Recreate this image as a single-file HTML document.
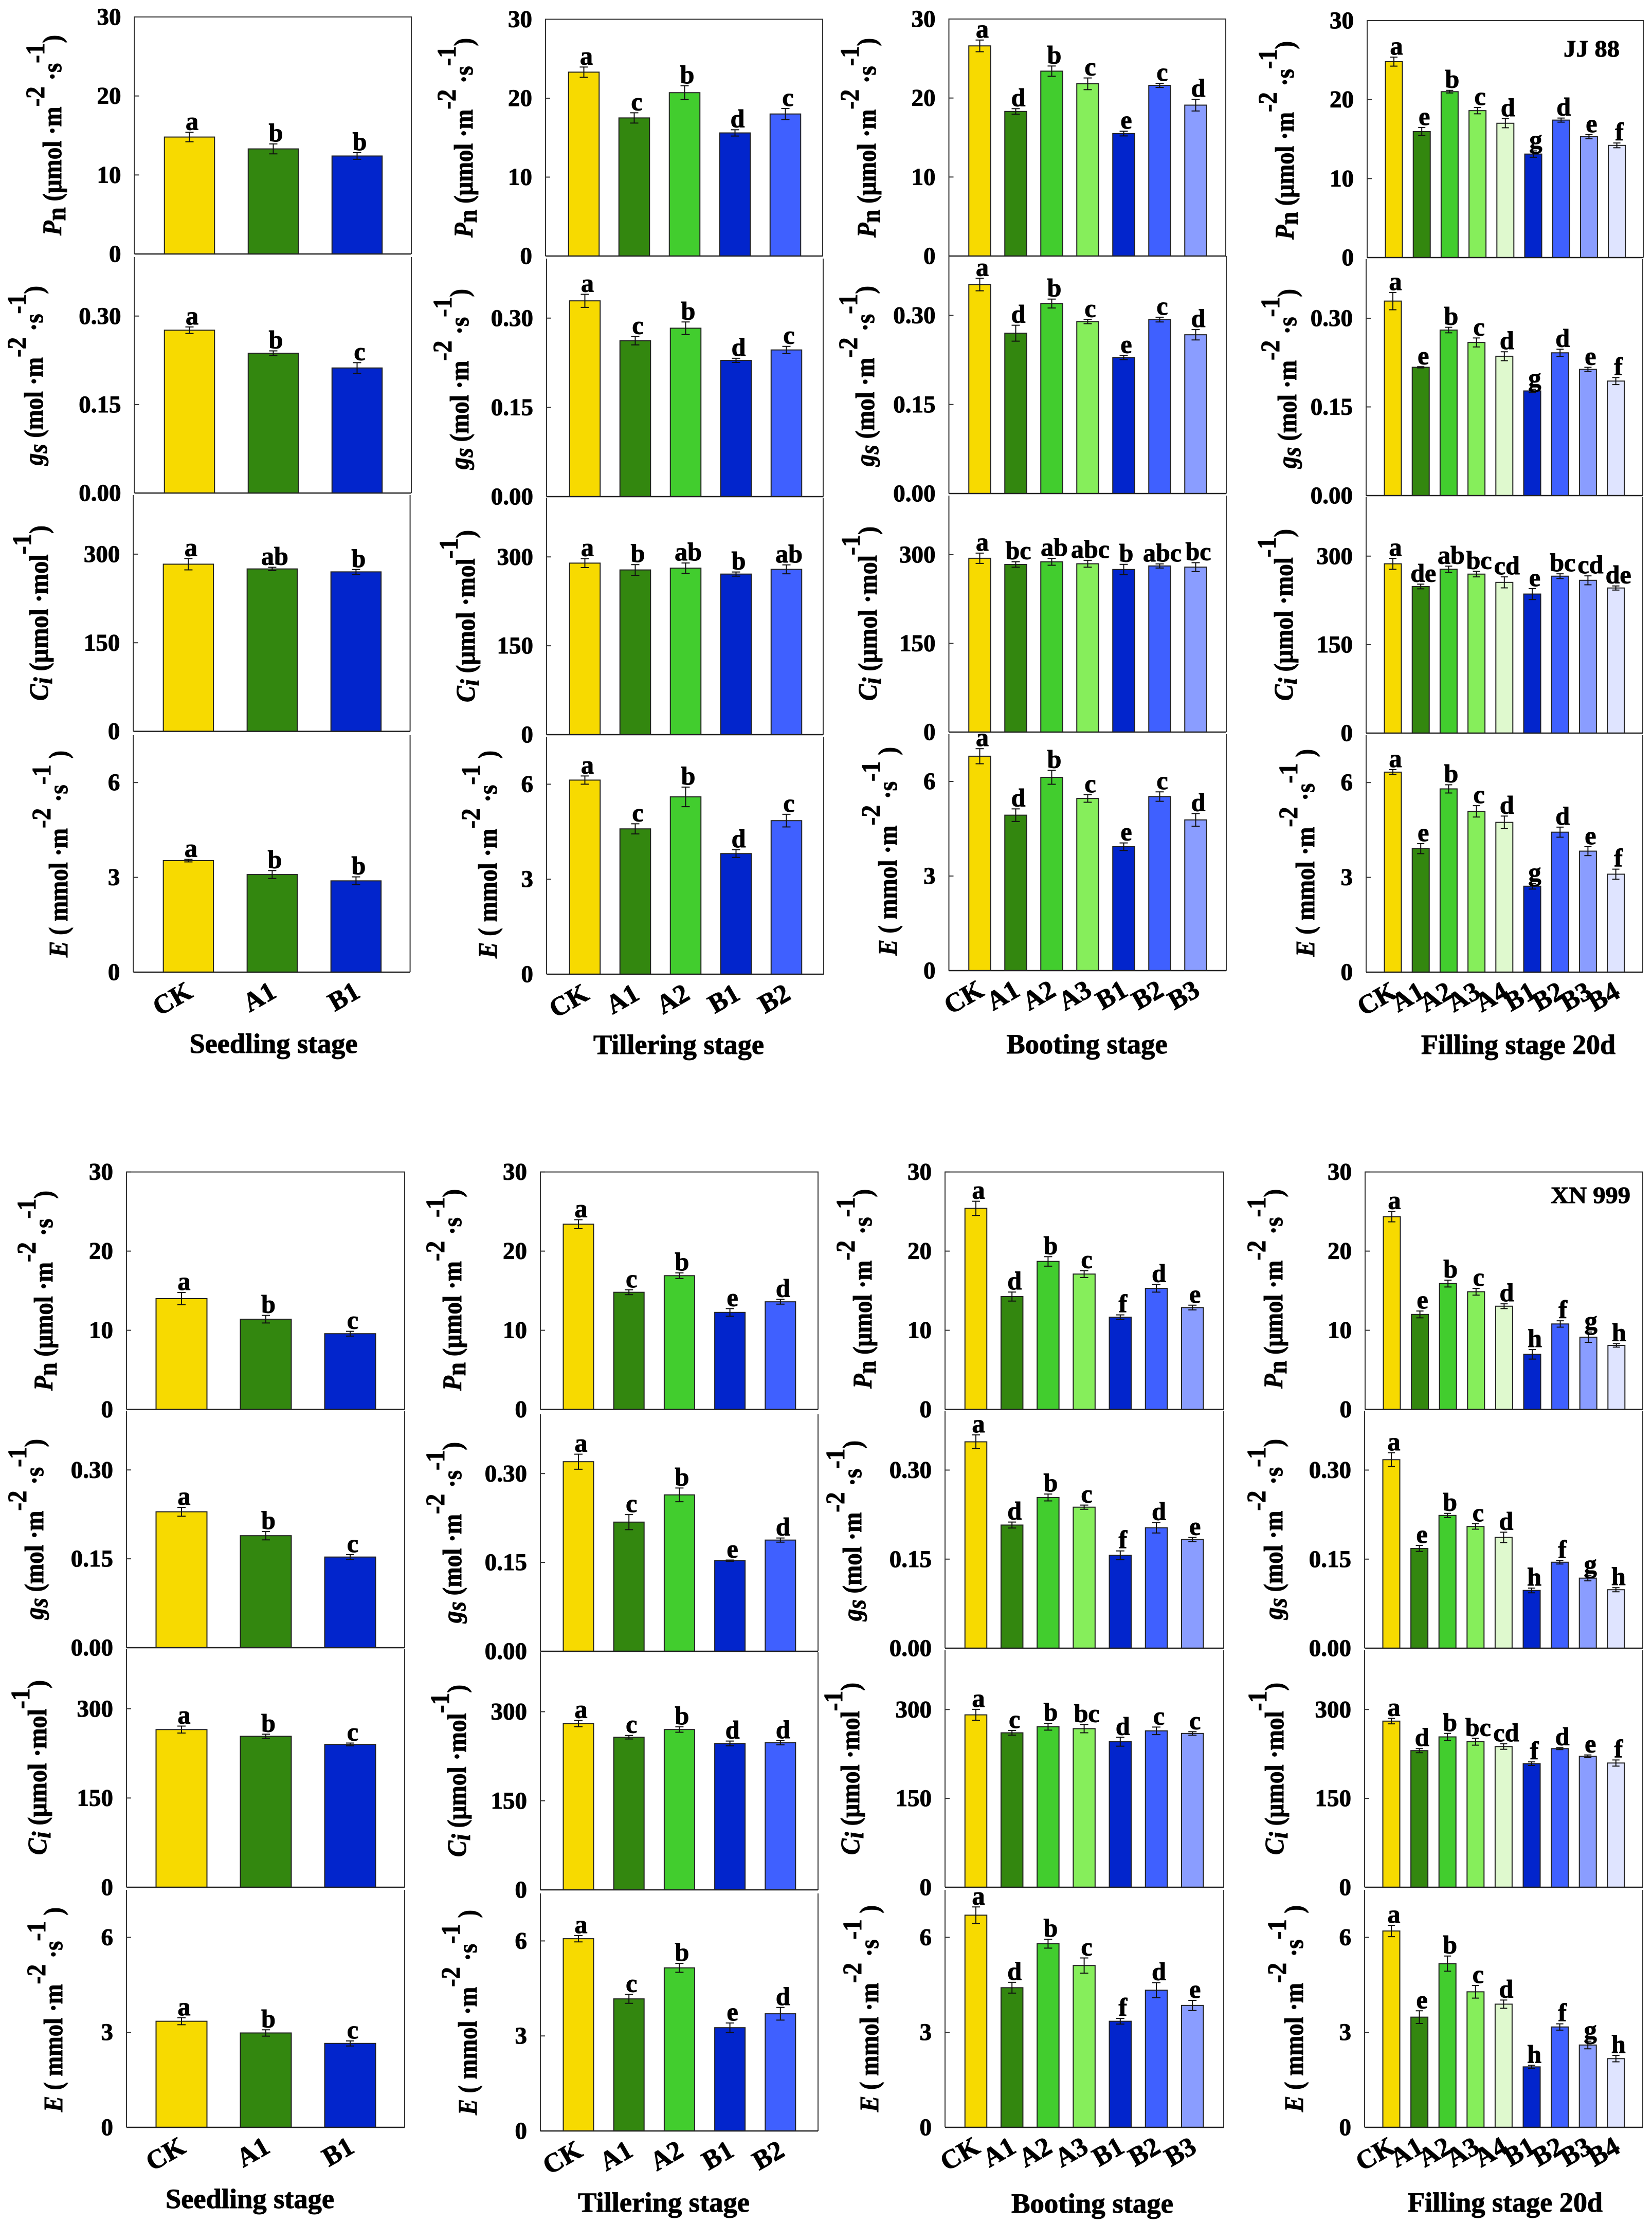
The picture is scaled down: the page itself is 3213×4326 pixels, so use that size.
<!DOCTYPE html>
<html lang="en">
<head>
<meta charset="utf-8">
<title>Gas exchange parameters by growth stage</title>
<style>
html,body{margin:0;padding:0;background:#fff;}
svg{display:block;font-family:"Liberation Serif","Times New Roman",serif;font-weight:bold;}
svg text{stroke:#000;stroke-width:1px;}
</style>
</head>
<body>
<svg id="chart" xmlns="http://www.w3.org/2000/svg" width="3213" height="4326" viewBox="0 0 3213 4326"></svg>
<script>
// Categories
const seedlingCats=['CK','A1','B1'];
const tilleringCats=['CK','A1','A2','B1','B2'];
const bootingCats=['CK','A1','A2','A3','B1','B2','B3'];
const fillingCats=['CK','A1','A2','A3','A4','B1','B2','B3','B4'];

// Tick labels
const pnTicks=['0','10','20','30'];
const gsTicks=['0.00','0.15','0.30'];
const ciTicks=['0','150','300'];
const eTicks=['0','3','6'];

// JJ 88 - Seedling
const jjSeedPn=[14.8,13.3,12.4];const jjSeedPnErr=[.6,.63,.42];const jjSeedPnSig=['a','b','b'];
const jjSeedGs=[.276,.237,.212];const jjSeedGsErr=[.0055,.004,.009];const jjSeedGsSig=['a','b','c'];
const jjSeedCi=[283,275,270];const jjSeedCiErr=[9.6,2.7,4];const jjSeedCiSig=['a','ab','b'];
const jjSeedE=[3.53,3.09,2.89];const jjSeedEErr=[.04,.125,.125];const jjSeedESig=['a','b','b'];
// JJ 88 - Tillering
const jjTillPn=[23.3,17.5,20.7,15.6,18];const jjTillPnErr=[.65,.65,.87,.4,.7];const jjTillPnSig=['a','c','b','d','c'];
const jjTillGs=[.329,.262,.283,.229,.2465];const jjTillGsErr=[.011,.007,.0105,.0035,.006];const jjTillGsSig=['a','c','b','d','c'];
const jjTillCi=[289.5,278,281,271,279];const jjTillCiErr=[7.5,9,8.7,3.5,7.5];const jjTillCiSig=['a','b','ab','b','ab'];
const jjTillE=[6.13,4.59,5.6,3.81,4.85];const jjTillEErr=[.13,.16,.31,.12,.2];const jjTillESig=['a','c','b','d','c'];
// JJ 88 - Booting
const jjBootPn=[26.6,18.3,23.4,21.8,15.5,21.6,19.1];const jjBootPnErr=[.74,.35,.65,.74,.3,.26,.74];const jjBootPnSig=['a','d','b','c','e','c','d'];
const jjBootGs=[.352,.27,.32,.2895,.229,.293,.2674];const jjBootGsErr=[.0105,.0134,.0075,.0035,.0035,.004,.0087];const jjBootGsSig=['a','d','b','c','e','c','d'];
const jjBootCi=[294,283.5,288,284.7,275,281,279];const jjBootCiErr=[8.7,4.7,5.8,5.8,8.7,3.5,7.5];const jjBootCiSig=['a','bc','ab','abc','b','abc','bc'];
const jjBootE=[6.8,4.93,6.13,5.46,3.93,5.52,4.78];const jjBootEErr=[.24,.2,.22,.12,.12,.15,.2];const jjBootESig=['a','d','b','c','e','c','d'];
// JJ 88 - Filling
const jjFillPn=[24.8,15.95,21,18.6,17,13.1,17.4,15.3,14.2];const jjFillPnErr=[.57,.52,.17,.4,.57,.4,.26,.26,.3];const jjFillPnSig=['a','e','b','c','d','g','d','e','f'];
const jjFillGs=[.329,.217,.28,.259,.2357,.177,.2415,.2135,.1937];const jjFillGsErr=[.0146,.001,.0047,.0076,.0076,.003,.006,.0035,.006];const jjFillGsSig=['a','e','b','c','d','g','d','e','f'];
const jjFillCi=[287,248.5,277.7,269.5,255.5,235.7,266,259,246];const jjFillCiErr=[9.3,4,5.3,4.7,9.3,9.3,4,7.6,3.5];const jjFillCiSig=['a','de','ab','bc','cd','e','bc','cd','de'];
const jjFillE=[6.33,3.91,5.8,5.09,4.74,2.72,4.43,3.83,3.1];const jjFillEErr=[.08,.16,.13,.18,.2,.09,.16,.14,.16];const jjFillESig=['a','e','b','c','d','g','d','e','f'];
// XN 999 - Seedling
const xnSeedPn=[14,11.4,9.57];const xnSeedPnErr=[.78,.48,.3];const xnSeedPnSig=['a','b','c'];
const xnSeedGs=[.2294,.189,.153];const xnSeedGsErr=[.0075,.007,.004];const xnSeedGsSig=['a','b','c'];
const xnSeedCi=[265,253.7,240];const xnSeedCiErr=[5.8,3.5,2.3];const xnSeedCiSig=['a','b','c'];
const xnSeedE=[3.35,2.98,2.65];const xnSeedEErr=[.11,.1,.08];const xnSeedESig=['a','b','c'];
// XN 999 - Tillering
const xnTillPn=[23.4,14.8,16.9,12.26,13.6];const xnTillPnErr=[.57,.3,.35,.48,.3];const xnTillPnSig=['a','c','b','e','d'];
const xnTillGs=[.32,.218,.264,.153,.1877];const xnTillGsErr=[.0127,.0127,.0116,.001,.0035];const xnTillGsSig=['a','c','b','e','d'];
const xnTillCi=[280,257,270,246.5,247.7];const xnTillCiErr=[5.2,3,4.6,4,3.5];const xnTillCiSig=['a','c','b','d','d'];
const xnTillE=[6.07,4.17,5.15,3.26,3.7];const xnTillEErr=[.1,.14,.14,.15,.2];const xnTillESig=['a','c','b','e','d'];
// XN 999 - Booting
const xnBootPn=[25.4,14.26,18.7,17.1,11.65,15.3,12.87];const xnBootPnErr=[.9,.57,.6,.43,.3,.48,.3];const xnBootPnSig=['a','d','b','c','f','d','e'];
const xnBootGs=[.3476,.2074,.2538,.2375,.1564,.2028,.183];const xnBootGsErr=[.0116,.005,.0058,.0035,.0075,.0087,.0035];const xnBootGsSig=['a','d','b','c','f','d','e'];
const xnBootCi=[291,260.7,271,267.7,245.6,264,259.6];const xnBootCiErr=[9.3,4,5.8,7,7.5,6.4,3];const xnBootCiSig=['a','c','b','bc','d','c','c'];
const xnBootE=[6.7,4.41,5.8,5.11,3.35,4.33,3.85];const xnBootEErr=[.26,.17,.14,.24,.09,.24,.16];const xnBootESig=['a','d','b','c','f','d','e'];
// XN 999 - Filling
const xnFillPn=[24.35,12,15.9,14.87,13.04,6.96,10.8,9.13,8.09];const xnFillPnErr=[.65,.43,.43,.43,.3,.6,.4,.65,.22];const xnFillPnSig=['a','e','b','c','d','h','f','g','h'];
const xnFillGs=[.3175,.168,.2236,.205,.1866,.0973,.1448,.118,.0985];const xnFillGsErr=[.0116,.005,.0035,.0046,.0087,.004,.003,.0046,.0035];const xnFillGsSig=['a','e','b','c','d','h','f','g','h'];
const xnFillCi=[280.4,230.6,253.8,245.6,237.5,208.6,234,221,209.7];const xnFillCiErr=[4.6,3.5,5.8,5.8,4.6,3,1.7,2.3,5.2];const xnFillCiSig=['a','d','b','bc','cd','f','d','e','f'];
const xnFillE=[6.2,3.48,5.17,4.28,3.89,1.91,3.17,2.6,2.17];const xnFillEErr=[.18,.2,.24,.2,.13,.05,.1,.12,.1];const xnFillESig=['a','e','b','c','d','h','f','g','h'];

// Presentation
const catColors={CK:'#F7DA00',A1:'#33870F',A2:'#42CD2E',A3:'#86EE5B',A4:'#DFF9CE',B1:'#0225CC',B2:'#3F60FF',B3:'#8A9DFF',B4:'#DFE4FF'};
const metrics={
  pn:{max:30,ticks:pnTicks,parts:[['P','i'],['n','sub'],[' (\u03BCmol \u00B7m',''],['-2','sup'],[' \u00B7s',''],['-1','sup'],[')','']]},
  gs:{max:0.4,ticks:gsTicks,parts:[['g','i'],['s','isub'],[' (mol \u00B7m',''],['-2','sup'],[' \u00B7s',''],['-1','sup'],[')','']]},
  ci:{max:400,ticks:ciTicks,parts:[['C','i'],['i','isub'],[' (\u03BCmol \u00B7mol',''],['-1','sup'],[')','']]},
  e:{max:7.5,ticks:eTicks,parts:[['E','i'],[' ( mmol \u00B7m',''],['-2','sup'],[' \u00B7s',''],['-1','sup'],[' )','']]}
};

const layout=[
 {id:'jj-seedling',cats:seedlingCats,off:107,step:163,w:97.5,cap:16,title:'Seedling stage',tc:532,tb:2048,tw:327,rows:[
  {m:'pn',box:[261.5,800,33,494],yt:[119,458,68],v:jjSeedPn,e:jjSeedPnErr,s:jjSeedPnSig},
  {m:'gs',box:[261.5,800,500,959],yt:[83,905,556],v:jjSeedGs,e:jjSeedGsErr,s:jjSeedGsSig},
  {m:'ci',box:[259.4,797.6,963,1422.6],yt:[93,1363,1022],v:jjSeedCi,e:jjSeedCiErr,s:jjSeedCiSig},
  {m:'e',box:[259.4,797.6,1430,1891],yt:[131,1862,1460],v:jjSeedE,e:jjSeedEErr,s:jjSeedESig}]},
 {id:'jj-tillering',cats:tilleringCats,off:74.5,step:98,w:59.5,cap:16,title:'Tillering stage',tc:1320,tb:2050,tw:332,rows:[
  {m:'pn',box:[1061,1600,37.5,498],yt:[919,462,74],v:jjTillPn,e:jjTillPnErr,s:jjTillPnSig},
  {m:'gs',box:[1063,1601,503,966],yt:[911,913,562],v:jjTillGs,e:jjTillGsErr,s:jjTillGsSig},
  {m:'ci',box:[1063,1601,968,1429],yt:[923,1366,1031],v:jjTillCi,e:jjTillCiErr,s:jjTillCiSig},
  {m:'e',box:[1063,1602,1433,1895],yt:[966,1864,1460],v:jjTillE,e:jjTillEErr,s:jjTillESig}]},
 {id:'jj-booting',cats:bootingCats,off:60,step:70,w:42.5,cap:16,title:'Booting stage',tc:2114,tb:2049,tw:313,rows:[
  {m:'pn',box:[1845.5,2384,37,498],yt:[1703,462,74],v:jjBootPn,e:jjBootPnErr,s:jjBootPnSig},
  {m:'gs',box:[1845.5,2385,498,960],yt:[1700,907,556],v:jjBootGs,e:jjBootGsErr,s:jjBootGsSig},
  {m:'ci',box:[1845.5,2385,964,1424],yt:[1705,1363,1024],v:jjBootCi,e:jjBootCiErr,s:jjBootCiSig},
  {m:'e',box:[1845.5,2385,1428,1888],yt:[1744,1859,1453],v:jjBootE,e:jjBootEErr,s:jjBootESig}]},
 {id:'jj-filling',cats:fillingCats,off:52,step:54.2,w:33,cap:14,title:'Filling stage 20d',tc:2953,tb:2050,tw:378,rows:[
  {m:'pn',box:[2659,3196,40,501],yt:[2516,466,80],v:jjFillPn,e:jjFillPnErr,s:jjFillPnSig},
  {m:'gs',box:[2657,3195,504,964],yt:[2521,911,562],v:jjFillGs,e:jjFillGsErr,s:jjFillGsSig},
  {m:'ci',box:[2657,3195,967,1426],yt:[2514,1363,1029],v:jjFillCi,e:jjFillCiErr,s:jjFillCiSig},
  {m:'e',box:[2657,3195,1430,1891],yt:[2556,1861,1457],v:jjFillE,e:jjFillEErr,s:jjFillESig}]},
 {id:'xn-seedling',cats:seedlingCats,off:107,step:164,w:99,cap:16,title:'Seedling stage',tc:486,tb:4295,tw:328,rows:[
  {m:'pn',box:[246,787,2279.6,2741.6],yt:[102,2705,2316],v:xnSeedPn,e:xnSeedPnErr,s:xnSeedPnSig},
  {m:'gs',box:[246,787,2744,3205],yt:[84,3150,2799],v:xnSeedGs,e:xnSeedGsErr,s:xnSeedGsSig},
  {m:'ci',box:[246,787,3208,3671],yt:[90,3608,3268],v:xnSeedCi,e:xnSeedCiErr,s:xnSeedCiSig},
  {m:'e',box:[246,787,3676,4138],yt:[121,4108,3710],v:xnSeedE,e:xnSeedEErr,s:xnSeedESig}]},
 {id:'xn-tillering',cats:tilleringCats,off:74,step:98.2,w:59,cap:16,title:'Tillering stage',tc:1291,tb:4302,tw:334,rows:[
  {m:'pn',box:[1051,1591,2279.6,2741.6],yt:[897,2705,2313],v:xnTillPn,e:xnTillPnErr,s:xnTillPnSig},
  {m:'gs',box:[1051,1591,2751,3212],yt:[897,3157,2805],v:xnTillGs,e:xnTillGsErr,s:xnTillGsSig},
  {m:'ci',box:[1051,1591,3214,3676],yt:[906,3612,3277],v:xnTillCi,e:xnTillCiErr,s:xnTillCiSig},
  {m:'e',box:[1051,1591,3683,4145],yt:[927,4114,3715],v:xnTillE,e:xnTillEErr,s:xnTillESig}]},
 {id:'xn-booting',cats:bootingCats,off:60,step:70.2,w:42.5,cap:16,title:'Booting stage',tc:2124.5,tb:4304,tw:315,rows:[
  {m:'pn',box:[1838,2380,2279.6,2741.6],yt:[1695,2701,2313],v:xnBootPn,e:xnBootPnErr,s:xnBootPnSig},
  {m:'gs',box:[1838,2380,2744,3206],yt:[1675,3153,2802],v:xnBootGs,e:xnBootGsErr,s:xnBootGsSig},
  {m:'ci',box:[1838,2380,3210,3671],yt:[1671,3608,3273],v:xnBootCi,e:xnBootCiErr,s:xnBootCiSig},
  {m:'e',box:[1838,2380,3676,4138],yt:[1708,4108,3706],v:xnBootE,e:xnBootEErr,s:xnBootESig}]},
 {id:'xn-filling',cats:fillingCats,off:52,step:54.6,w:33,cap:14,title:'Filling stage 20d',tc:2927.5,tb:4302,tw:379,rows:[
  {m:'pn',box:[2655,3195,2279.6,2741.6],yt:[2494,2701,2313],v:xnFillPn,e:xnFillPnErr,s:xnFillPnSig},
  {m:'gs',box:[2654,3195,2744,3206],yt:[2494,3150,2799],v:xnFillGs,e:xnFillGsErr,s:xnFillGsSig},
  {m:'ci',box:[2654,3195,3210,3671],yt:[2496,3608,3273],v:xnFillCi,e:xnFillCiErr,s:xnFillCiSig},
  {m:'e',box:[2654,3195,3676,4138],yt:[2534,4108,3706],v:xnFillE,e:xnFillEErr,s:xnFillESig}]}
];

const NS='http://www.w3.org/2000/svg';
const svg=document.getElementById('chart');
function mk(tag,attrs,parent){
  const el=document.createElementNS(NS,tag);
  for(const k in attrs)el.setAttribute(k,attrs[k]);
  (parent||svg).appendChild(el);
  return el;
}

function drawTitle(parent,metric,yt){
  const t=mk('text',{transform:'translate('+yt[0]+','+yt[1]+') rotate(-90)',x:0,y:0,'font-size':52,fill:'#000',textLength:yt[1]-yt[2],lengthAdjust:'spacingAndGlyphs'},parent);
  t.setAttribute('xml:space','preserve');
  t.style.whiteSpace='pre';
  
  
  let cur=0;
  metric.parts.forEach(function(p){
    let target=0;
    if(p[1]==='sup')target=-33;
    if(p[1]==='sub'||p[1]==='isub')target=8;
    const s=mk('tspan',{dy:target-cur},t);
    if(p[1]==='i'||p[1]==='isub')s.setAttribute('font-style','italic');
    s.textContent=p[0];
    cur=target;
  });
}

layout.forEach(function(col){
  const g=mk('g',{});
  
  
  col.rows.forEach(function(r,ri){
    const metric=metrics[r.m];
    const L=r.box[0],R=r.box[1],T=r.box[2],B=r.box[3];
    const yScale=function(v){return B-(v/metric.max)*(B-T);};
    const xScale=function(i){return L+col.off+col.step*i;};
    const pg=mk('g',{},g);
    
    

    const framePath=ri===0
      ? 'M'+L+' '+B+'V'+T+'H'+R+'V'+B
      : 'M'+L+' '+T+'V'+B+'M'+R+' '+T+'V'+B;
    const frame=mk('path',{d:framePath,fill:'none',stroke:'#333',"stroke-width":2},pg);
    
    

    metric.ticks.forEach(function(label){
      const v=parseFloat(label);
      const y=yScale(v);
      if(v>0){
        const tk=mk('line',{x1:L,x2:L+9,y1:y,y2:y,stroke:'#333',"stroke-width":2},pg);
        
        
      }
      const tl=mk('text',{x:L-26,y:y+15,'text-anchor':'end','font-size':47,fill:'#000'},pg);
      
      
      tl.textContent=label;
    });

    drawTitle(pg,metric,r.yt);

    col.cats.forEach(function(cat,i){
      const cx=xScale(i),y=yScale(r.v[i]);
      const bar=mk('rect',{x:cx-col.w/2,y:y,width:col.w,height:B-y,fill:catColors[cat],stroke:'#222',"stroke-width":2},pg);
      
      
      const yHi=yScale(r.v[i]+r.e[i]),yLo=yScale(r.v[i]-r.e[i]);
      const hw=col.cap/2;
      const err=mk('path',{d:'M'+cx+' '+yHi+'V'+yLo+'M'+(cx-hw)+' '+yHi+'H'+(cx+hw)+'M'+(cx-hw)+' '+yLo+'H'+(cx+hw),fill:'none',stroke:'#111',"stroke-width":2},pg);
      
      
      const sig=mk('text',{x:cx+5,y:yHi-5,'text-anchor':'middle','font-size':50,fill:'#000'},pg);
      
      
      sig.textContent=r.s[i];
      if(ri===col.rows.length-1){
        const ex=cx+11,ey=B+47;
        const cl=mk('text',{x:ex,y:ey,'text-anchor':'end','font-size':52,fill:'#000',transform:'rotate(-30 '+ex+' '+ey+')'},g);
        
        
        cl.textContent=cat;
      }
    });

    const base=mk('line',{x1:L,x2:R,y1:B,y2:B,stroke:'#222',"stroke-width":2.5},pg);
    
    
  });
  const st=mk('text',{x:col.tc,y:col.tb,'text-anchor':'middle','font-size':54,fill:'#000',textLength:col.tw,lengthAdjust:'spacingAndGlyphs'},g);
  
  
  st.textContent=col.title;
});

const jj=mk('text',{x:3150,y:110,'text-anchor':'end','font-size':46,fill:'#000',textLength:109,lengthAdjust:'spacingAndGlyphs'});


jj.textContent='JJ 88';
const xn=mk('text',{x:3171,y:2340,'text-anchor':'end','font-size':46,fill:'#000',textLength:155,lengthAdjust:'spacingAndGlyphs'});


xn.textContent='XN 999';
</script>
</body>
</html>
